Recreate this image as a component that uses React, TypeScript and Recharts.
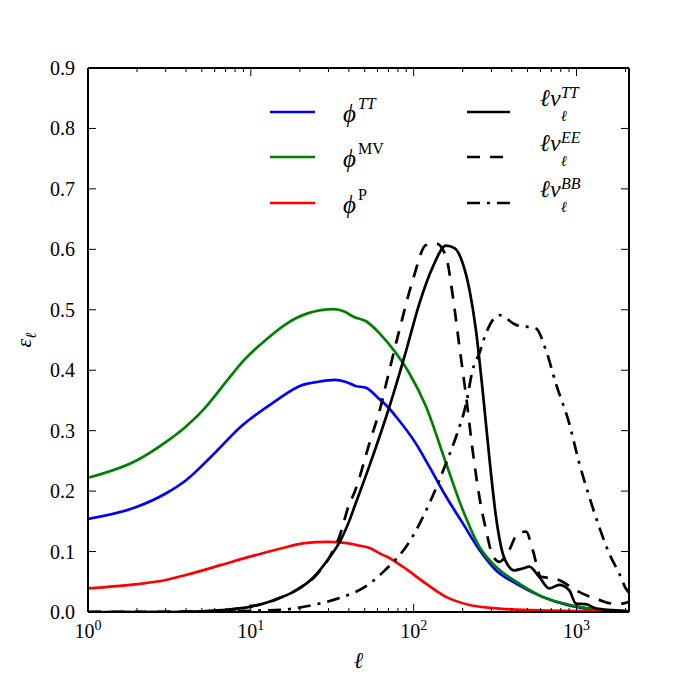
import React from 'react';
import { LineChart, Line, XAxis, YAxis, Legend, Label } from 'recharts';

// Multipole values (ell) and efficiency values (epsilon_ell) for each curve.
const phiTTEll = [1, 2, 3, 4, 5.7, 8.7, 14, 20, 26, 33, 38, 44, 51, 60, 69, 78, 103, 125, 158, 200, 253, 320, 425, 620, 900, 1300, 2100];
const phiTTEps = [0.154, 0.174, 0.196, 0.218, 0.257, 0.307, 0.348, 0.374, 0.381, 0.384, 0.381, 0.374, 0.371, 0.355, 0.34, 0.323, 0.279, 0.24, 0.191, 0.147, 0.103, 0.069, 0.047, 0.025, 0.011, 0.004, 0.001];

const phiMVEll = [1, 2, 3, 4, 5.2, 7.2, 9.1, 12.7, 16.8, 22.3, 32.5, 37.5, 43, 51, 61.7, 78, 94, 119, 158, 200, 253, 320, 445, 620, 900, 1315, 2100];
const phiMVEps = [0.222, 0.251, 0.281, 0.307, 0.337, 0.384, 0.417, 0.453, 0.478, 0.494, 0.501, 0.497, 0.488, 0.481, 0.461, 0.428, 0.395, 0.34, 0.246, 0.169, 0.108, 0.075, 0.047, 0.025, 0.012, 0.0045, 0.001];

const phiPEll = [1, 2, 3, 4.1, 6.6, 10, 15.3, 21.3, 29.6, 39, 44, 54.6, 61.7, 69, 85.7, 119, 158, 220, 320, 530, 1000, 2100];
const phiPEps = [0.039, 0.046, 0.053, 0.062, 0.078, 0.092, 0.105, 0.114, 0.116, 0.114, 0.111, 0.105, 0.097, 0.091, 0.075, 0.047, 0.025, 0.0116, 0.006, 0.003, 0.0015, 0.001];

const vTTEll = [1, 3, 5, 6.6, 10, 14, 18.5, 24.4, 30, 35.6, 40.4, 43, 54, 71, 90, 108.6, 131, 158, 178, 200, 220, 241, 265, 291, 320, 352, 378, 415, 467, 513, 590, 680, 783, 902, 991, 1140, 1315, 1665, 2100];
const vTTEps = [0, 0, 0.001, 0.003, 0.009, 0.02, 0.034, 0.058, 0.088, 0.119, 0.152, 0.172, 0.245, 0.34, 0.433, 0.511, 0.571, 0.606, 0.602, 0.577, 0.533, 0.467, 0.367, 0.257, 0.158, 0.097, 0.078, 0.069, 0.072, 0.075, 0.058, 0.039, 0.045, 0.036, 0.014, 0.013, 0.006, 0.003, 0.001];

const vEEEll = [1, 5, 10, 14, 20, 25, 30, 35, 40.4, 43, 54, 63, 67.8, 81.8, 98.7, 119, 137, 158, 174, 191, 210, 230, 253, 278, 305, 336, 387, 435, 490, 538, 605, 713, 821, 946, 1140, 1377, 1663, 1900, 2100];
const vEEEps = [0, 0.001, 0.009, 0.02, 0.04, 0.06, 0.088, 0.125, 0.18, 0.196, 0.283, 0.342, 0.378, 0.467, 0.549, 0.607, 0.61, 0.588, 0.522, 0.439, 0.356, 0.268, 0.191, 0.136, 0.094, 0.083, 0.103, 0.13, 0.133, 0.103, 0.058, 0.056, 0.05, 0.039, 0.028, 0.02, 0.014, 0.014, 0.017];

const vBBEll = [1, 5, 8, 10.5, 16, 24.4, 35, 51, 66, 94, 125, 158, 182, 210, 230, 253, 278, 336, 425, 564, 649, 747, 902, 1040, 1196, 1377, 1585, 1827, 2008, 2100];
const vBBEps = [0, 0, 0.001, 0.002, 0.004, 0.012, 0.023, 0.043, 0.068, 0.116, 0.18, 0.246, 0.29, 0.345, 0.4, 0.428, 0.461, 0.491, 0.475, 0.469, 0.433, 0.378, 0.312, 0.246, 0.191, 0.141, 0.097, 0.064, 0.039, 0.032];

// Axis ticks
const xMajorTicks = [1, 10, 100, 1000];
const xMinorTicks = [2, 3, 4, 5, 6, 7, 8, 9, 20, 30, 40, 50, 60, 70, 80, 90, 200, 300, 400, 500, 600, 700, 800, 900, 2000];
const yTicks = [0, 0.1, 0.2, 0.3, 0.4, 0.5, 0.6, 0.7, 0.8, 0.9];
const yTickLabels = ['0.0', '0.1', '0.2', '0.3', '0.4', '0.5', '0.6', '0.7', '0.8', '0.9'];

const X_DOMAIN: [number, number] = [1, 2100];
const Y_DOMAIN: [number, number] = [0, 0.9];
const xTicks = [...xMajorTicks, ...xMinorTicks].sort((a, b) => a - b);

const FONT = '"Liberation Serif", "DejaVu Serif", serif';
const MAJOR = 8;
const MINOR = 4;

const toPoints = (ell: number[], eps: number[]) => ell.map((l, i) => ({ ell: l, eps: eps[i] }));

const series = [
  { key: 'phiTT', data: toPoints(phiTTEll, phiTTEps), stroke: '#0000ff', dash: undefined as string | undefined },
  { key: 'phiMV', data: toPoints(phiMVEll, phiMVEps), stroke: '#008000', dash: undefined as string | undefined },
  { key: 'phiP', data: toPoints(phiPEll, phiPEps), stroke: '#ff0000', dash: undefined as string | undefined },
  { key: 'vTT', data: toPoints(vTTEll, vTTEps), stroke: '#000000', dash: undefined as string | undefined },
  { key: 'vEE', data: toPoints(vEEEll, vEEEps), stroke: '#000000', dash: '13 10' },
  { key: 'vBB', data: toPoints(vBBEll, vBBEps), stroke: '#000000', dash: '13 7 3 7' },
];

const isMajorX = (v: number) => xMajorTicks.includes(v);

const BottomTick = (props: any) => {
  const { x, y, payload } = props;
  const v = payload.value;
  const major = isMajorX(v);
  return (
    <g>
      <line x1={x} x2={x} y1={y} y2={y - (major ? MAJOR : MINOR)} stroke="#000" strokeWidth={1} />
      {major && (
        <text x={x} y={y + 26} textAnchor="middle" fontFamily={FONT} fontSize={20} fill="#000">
          10
          <tspan dy={-8} fontSize={14}>{Math.round(Math.log10(v))}</tspan>
        </text>
      )}
    </g>
  );
};

const TopTick = (props: any) => {
  const { x, y, payload } = props;
  const major = isMajorX(payload.value);
  return <line x1={x} x2={x} y1={y} y2={y + (major ? MAJOR : MINOR)} stroke="#000" strokeWidth={1} />;
};

const LeftTick = (props: any) => {
  const { x, y, payload, index } = props;
  return (
    <g>
      <line x1={x} x2={x + MAJOR} y1={y} y2={y} stroke="#000" strokeWidth={1} />
      <text x={x - 13} y={y + 7} textAnchor="end" fontFamily={FONT} fontSize={20} fill="#000">
        {yTickLabels[index] ?? payload.value.toFixed(1)}
      </text>
    </g>
  );
};

const RightTick = (props: any) => {
  const { x, y } = props;
  return <line x1={x} x2={x - MAJOR} y1={y} y2={y} stroke="#000" strokeWidth={1} />;
};

const XTitle = (props: any) => {
  const { viewBox } = props;
  const cx = viewBox.x + viewBox.width / 2;
  return (
    <text x={cx} y={viewBox.y + 56} textAnchor="middle" fontFamily={FONT} fontSize={23} fontStyle="italic" fill="#000">
      ℓ
    </text>
  );
};

const YTitle = (props: any) => {
  const { viewBox } = props;
  const cy = viewBox.y + viewBox.height / 2;
  const bx = 31;
  return (
    <text x={bx} y={cy} transform={`rotate(-90, ${bx}, ${cy})`} textAnchor="middle" fontFamily={FONT} fontSize={22} fontStyle="italic" fill="#000">
      ε<tspan dy={5} fontSize={15}>ℓ</tspan>
    </text>
  );
};

const legendLeft = [
  { stroke: '#0000ff', sup: 'TT', supItalic: true },
  { stroke: '#008000', sup: 'MV', supItalic: false },
  { stroke: '#ff0000', sup: 'P', supItalic: false },
];
const legendRight = [
  { dash: undefined as string | undefined, sup: 'TT' },
  { dash: '13 10', sup: 'EE' },
  { dash: '13 7 3 7', sup: 'BB' },
];

const LegendBox = () => {
  const rowY = [27, 72, 118];
  return (
    <svg width={370} height={145} style={{ overflow: 'visible' }}>
      {legendLeft.map((r, i) => (
        <g key={`l${i}`}>
          <line x1={10} x2={55} y1={rowY[i]} y2={rowY[i]} stroke={r.stroke} strokeWidth={2.6} />
          <text x={83} y={rowY[i] + 10} fontFamily={FONT} fontSize={25} fill="#000">
            <tspan fontStyle="italic">ϕ</tspan>
            <tspan dx={2} dy={-13} fontSize={16} fontStyle={r.supItalic ? 'italic' : 'normal'}>{r.sup}</tspan>
          </text>
        </g>
      ))}
      {legendRight.map((r, i) => (
        <g key={`r${i}`}>
          <line x1={207} x2={250} y1={rowY[i]} y2={rowY[i]} stroke="#000" strokeWidth={2.6} strokeDasharray={r.dash} />
          <text x={280} y={rowY[i] - 6} fontFamily={FONT} fontSize={24} fontStyle="italic" fill="#000">
            ℓv
            <tspan dy={15} fontSize={15}>ℓ</tspan>
            <tspan dx={-6} dy={-23} fontSize={16}>{r.sup}</tspan>
          </text>
        </g>
      ))}
    </svg>
  );
};

export default function App() {
  return (
    <div style={{ position: 'absolute', left: 0, top: 0, width: 700, height: 681, background: '#fff' }}>
      <LineChart width={700} height={681} margin={{ top: 60, right: 63, bottom: 0, left: 0 }}>
        <XAxis
          dataKey="ell"
          type="number"
          scale="log"
          domain={X_DOMAIN}
          allowDataOverflow
          ticks={xTicks}
          interval={0}
          height={69}
          tickSize={0}
          tickMargin={0}
          tickLine={false}
          tick={<BottomTick />}
          axisLine={{ stroke: '#000', strokeWidth: 2 }}
        >
          <Label content={<XTitle />} />
        </XAxis>
        <XAxis
          xAxisId="top"
          orientation="top"
          dataKey="ell"
          type="number"
          scale="log"
          domain={X_DOMAIN}
          allowDataOverflow
          ticks={xTicks}
          interval={0}
          height={8}
          tickSize={0}
          tickMargin={0}
          tickLine={false}
          tick={<TopTick />}
          axisLine={{ stroke: '#000', strokeWidth: 2 }}
        />
        <YAxis
          type="number"
          domain={Y_DOMAIN}
          allowDataOverflow
          ticks={yTicks}
          interval={0}
          width={88}
          tickSize={0}
          tickMargin={0}
          tickLine={false}
          tick={<LeftTick />}
          axisLine={{ stroke: '#000', strokeWidth: 2 }}
        >
          <Label content={<YTitle />} />
        </YAxis>
        <YAxis
          yAxisId="right"
          orientation="right"
          type="number"
          domain={Y_DOMAIN}
          allowDataOverflow
          ticks={yTicks}
          interval={0}
          width={8}
          tickSize={0}
          tickMargin={0}
          tickLine={false}
          tick={<RightTick />}
          axisLine={{ stroke: '#000', strokeWidth: 2 }}
        />
        {series.map((s) => (
          <Line
            key={s.key}
            data={s.data}
            dataKey="eps"
            type="monotone"
            dot={false}
            stroke={s.stroke}
            strokeWidth={2.7}
            strokeDasharray={s.dash}
            isAnimationActive={false}
          />
        ))}
        <Legend
          layout="vertical"
          align="center"
          verticalAlign="middle"
          wrapperStyle={{ left: 260, top: 85, width: 370, height: 145 }}
          content={() => <LegendBox />}
        />
      </LineChart>
    </div>
  );
}
